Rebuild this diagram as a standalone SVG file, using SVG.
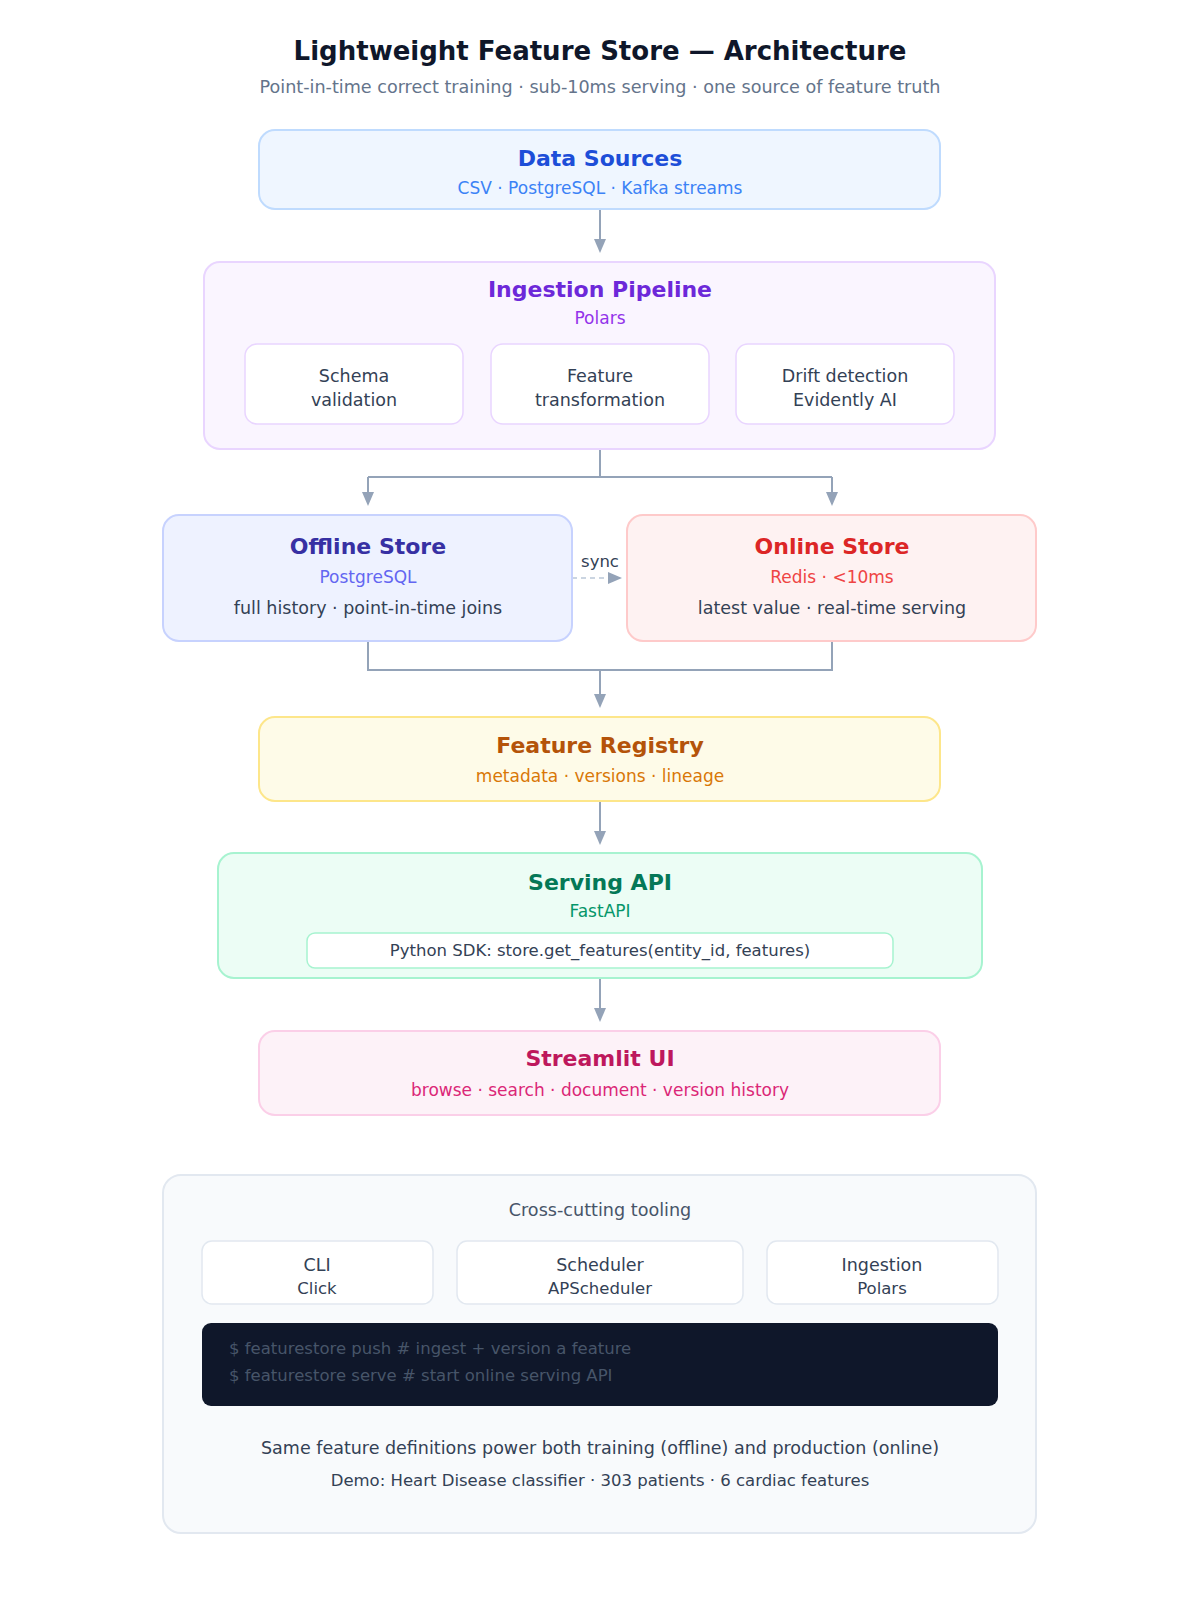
<svg xmlns="http://www.w3.org/2000/svg" width="1200" height="1609" viewBox="0 0 1200 1609">
<defs>
<style>
text{font-family:"DejaVu Sans",sans-serif;text-anchor:middle}
.t{font-size:22px;font-weight:bold}
.s{font-size:17px}
.b{font-size:17.5px;fill:#334155}
.m{font-size:16.5px;fill:#334155}
.c{stroke:#94a3b8;stroke-width:2;fill:none}
.sub{fill:#ffffff;stroke-width:1.5}
.ah{fill:#94a3b8}
</style>
</defs>
<rect width="1200" height="1609" fill="#ffffff"/>
<g id="title">
<text x="600" y="60" font-size="26" font-weight="bold" fill="#0f172a">Lightweight Feature Store — Architecture</text>
<text x="600" y="93" font-size="17.6" fill="#64748b">Point-in-time correct training · sub-10ms serving · one source of feature truth</text>
</g>
<g id="connectors">
<path class="c" d="M600,210 V240"/>
<path class="ah" d="M594,239 L606,239 L600,253 Z"/>
<path class="c" d="M600,449 V477 M368,477 H832 M368,477 V493 M832,477 V493"/>
<path class="ah" d="M362,492 L374,492 L368,506 Z M826,492 L838,492 L832,506 Z"/>
<path class="c" d="M572,578 H608" stroke-dasharray="5,4" style="stroke:#cbd5e1"/>
<path class="ah" d="M608,572 L622,578 L608,584 Z"/>
<text x="600" y="567" font-size="16.5" fill="#334155">sync</text>
<path class="c" d="M368,641 V670 H832 V641 M600,670 V695"/>
<path class="ah" d="M594,694 L606,694 L600,708 Z"/>
<path class="c" d="M600,801 V832"/>
<path class="ah" d="M594,831 L606,831 L600,845 Z"/>
<path class="c" d="M600,978 V1009"/>
<path class="ah" d="M594,1008 L606,1008 L600,1022 Z"/>
</g>
<g id="data-sources">
<rect x="259" y="130" width="681" height="79" rx="16" fill="#eff6ff" stroke="#bfdbfe" stroke-width="2"/>
<text x="600" y="166" class="t" fill="#1d4ed8">Data Sources</text>
<text x="600" y="194" class="s" fill="#3b82f6">CSV · PostgreSQL · Kafka streams</text>
</g>
<g id="ingestion-pipeline">
<rect x="204" y="262" width="791" height="187" rx="16" fill="#faf5ff" stroke="#e9d5ff" stroke-width="2"/>
<text x="600" y="297" class="t" fill="#6d28d9">Ingestion Pipeline</text>
<text x="600" y="324" class="s" fill="#9333ea">Polars</text>
</g>
<g id="schema-validation">
<rect x="245" y="344" width="218" height="80" rx="12" class="sub" stroke="#e9d5ff"/>
<text x="354" y="382" class="b">Schema</text>
<text x="354" y="406" class="b">validation</text>
</g>
<g id="feature-transformation">
<rect x="491" y="344" width="218" height="80" rx="12" class="sub" stroke="#e9d5ff"/>
<text x="600" y="382" class="b">Feature</text>
<text x="600" y="406" class="b">transformation</text>
</g>
<g id="drift-detection">
<rect x="736" y="344" width="218" height="80" rx="12" class="sub" stroke="#e9d5ff"/>
<text x="845" y="382" class="b">Drift detection</text>
<text x="845" y="406" class="b">Evidently AI</text>
</g>
<g id="offline-store">
<rect x="163" y="515" width="409" height="126" rx="16" fill="#eef2ff" stroke="#c7d2fe" stroke-width="2"/>
<text x="368" y="554" class="t" fill="#3730a3">Offline Store</text>
<text x="368" y="583" class="s" fill="#6366f1">PostgreSQL</text>
<text x="368" y="614" class="b">full history · point-in-time joins</text>
</g>
<g id="online-store">
<rect x="627" y="515" width="409" height="126" rx="16" fill="#fef2f2" stroke="#fecaca" stroke-width="2"/>
<text x="832" y="554" class="t" fill="#dc2626">Online Store</text>
<text x="832" y="583" class="s" fill="#ef4444">Redis · &lt;10ms</text>
<text x="832" y="614" class="b">latest value · real-time serving</text>
</g>
<g id="feature-registry">
<rect x="259" y="717" width="681" height="84" rx="16" fill="#fefbe8" stroke="#fde68a" stroke-width="2"/>
<text x="600" y="753" class="t" fill="#b45309">Feature Registry</text>
<text x="600" y="782" class="s" fill="#d97706">metadata · versions · lineage</text>
</g>
<g id="serving-api">
<rect x="218" y="853" width="764" height="125" rx="16" fill="#ecfdf5" stroke="#a7f3d0" stroke-width="2"/>
<text x="600" y="890" class="t" fill="#047857">Serving API</text>
<text x="600" y="917" class="s" fill="#059669">FastAPI</text>
<rect x="307" y="933" width="586" height="35" rx="8" class="sub" stroke="#a7f3d0"/>
<text x="600" y="956" class="m">Python SDK: store.get_features(entity_id, features)</text>
</g>
<g id="streamlit-ui">
<rect x="259" y="1031" width="681" height="84" rx="16" fill="#fdf2f8" stroke="#fbcfe8" stroke-width="2"/>
<text x="600" y="1066" class="t" fill="#be185d">Streamlit UI</text>
<text x="600" y="1096" class="s" fill="#db2777">browse · search · document · version history</text>
</g>
<g id="tooling">
<rect x="163" y="1175" width="873" height="358" rx="18" fill="#f8fafc" stroke="#e2e8f0" stroke-width="2"/>
<text x="600" y="1216" font-size="17.6" fill="#475569">Cross-cutting tooling</text>
</g>
<g id="cli">
<rect x="202" y="1241" width="231" height="63" rx="10" class="sub" stroke="#e2e8f0"/>
<text x="317" y="1271" class="b">CLI</text>
<text x="317" y="1294" class="m">Click</text>
</g>
<g id="scheduler">
<rect x="457" y="1241" width="286" height="63" rx="10" class="sub" stroke="#e2e8f0"/>
<text x="600" y="1271" class="b">Scheduler</text>
<text x="600" y="1294" class="m">APScheduler</text>
</g>
<g id="ingestion">
<rect x="767" y="1241" width="231" height="63" rx="10" class="sub" stroke="#e2e8f0"/>
<text x="882" y="1271" class="b">Ingestion</text>
<text x="882" y="1294" class="m">Polars</text>
</g>
<g id="terminal">
<rect x="202" y="1323" width="796" height="83" rx="9" fill="#0f172a"/>
<text x="229" y="1354" font-size="16.5" fill="#475569" style="text-anchor:start">$ featurestore push # ingest + version a feature</text>
<text x="229" y="1381" font-size="16.5" fill="#475569" style="text-anchor:start">$ featurestore serve # start online serving API</text>
</g>
<g id="footer">
<text x="600" y="1454" class="b">Same feature definitions power both training (offline) and production (online)</text>
<text x="600" y="1486" class="m">Demo: Heart Disease classifier · 303 patients · 6 cardiac features</text>
</g>
</svg>
